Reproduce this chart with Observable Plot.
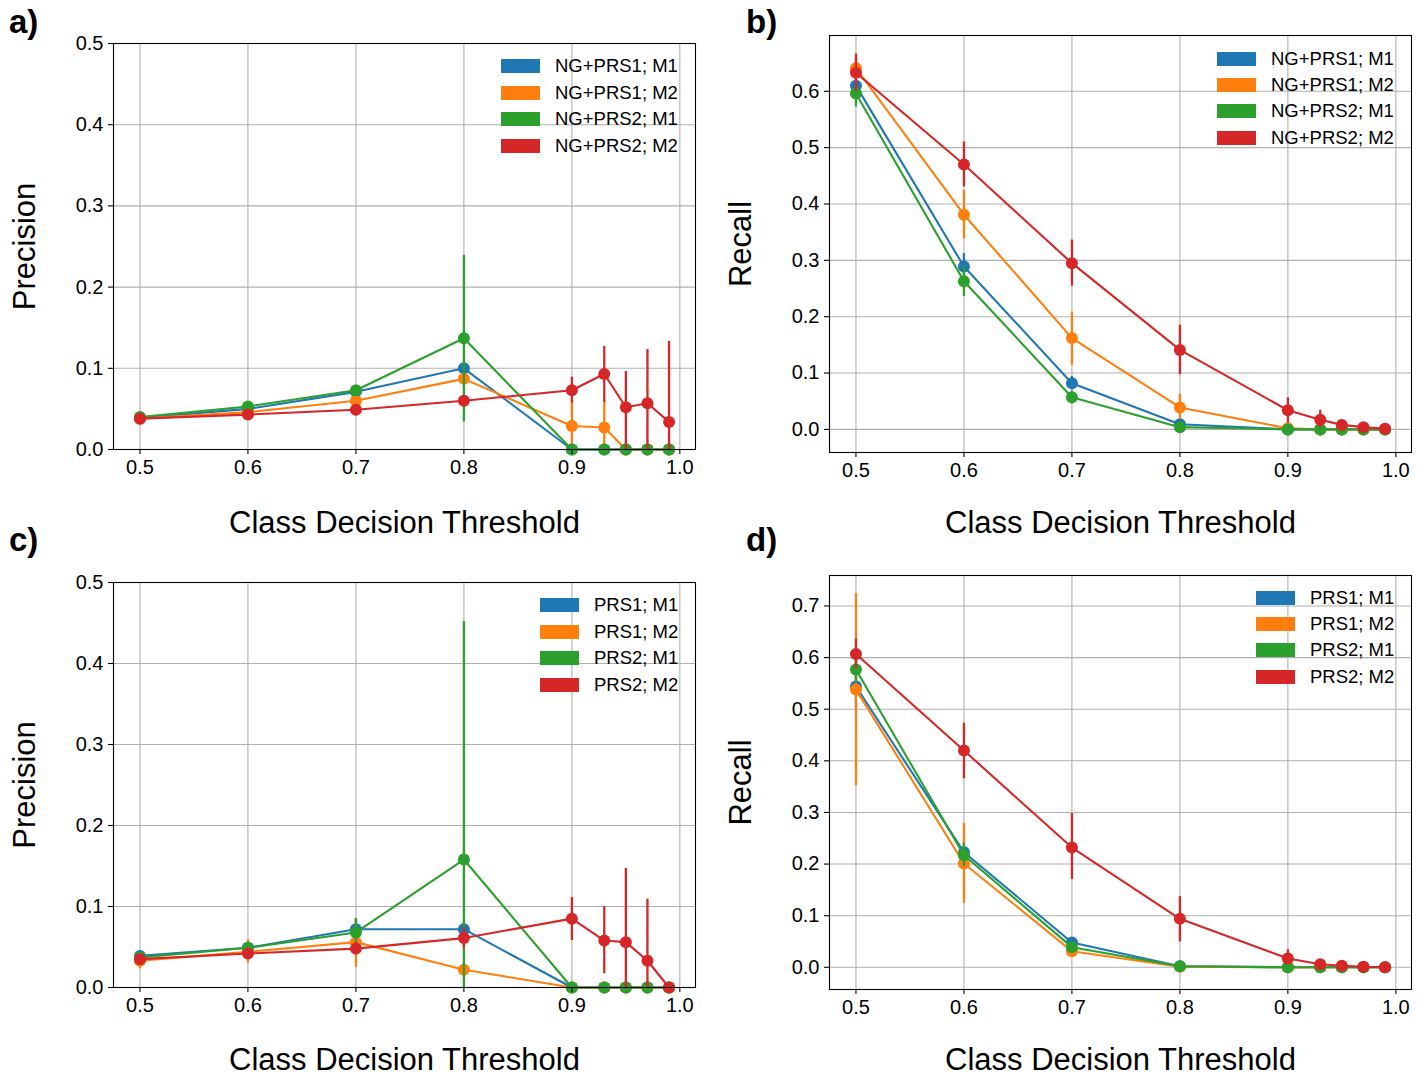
<!DOCTYPE html>
<html>
<head>
<meta charset="utf-8">
<script src="https://cdn.jsdelivr.net/npm/d3@7"></script>
<script src="https://cdn.jsdelivr.net/npm/@observablehq/plot@0.6"></script>
<style>
  html, body { margin: 0; padding: 0; background: #fff; }
  #fig { position: relative; width: 1426px; height: 1078px; background: #fff; font-family: "Liberation Sans", Arial, sans-serif; overflow: hidden; }
  .panel { position: absolute; }
  .letter { position: absolute; font-weight: bold; font-size: 33px; line-height: 33px; color: #000; }
  .leg { position: absolute; font-size: 18.5px; color: #000; white-space: nowrap; }
  .sw { position: absolute; width: 39px; height: 14px; }
</style>
</head>
<body>
<div id="fig"></div>
<script>
// ---------- data ----------
const thresholds = [0.5, 0.6, 0.7, 0.8, 0.9, 0.93, 0.95, 0.97, 0.99];
const xTicks = [0.5, 0.6, 0.7, 0.8, 0.9, 1.0];
const precisionTicks = [0.0, 0.1, 0.2, 0.3, 0.4, 0.5];
const recallTicksB = [0.0, 0.1, 0.2, 0.3, 0.4, 0.5, 0.6];
const recallTicksD = [0.0, 0.1, 0.2, 0.3, 0.4, 0.5, 0.6, 0.7];
const colors = ["#1f77b4", "#ff7f0e", "#2ca02c", "#d62728"];
const labelsNG = ["NG+PRS1; M1", "NG+PRS1; M2", "NG+PRS2; M1", "NG+PRS2; M2"];
const labelsPRS = ["PRS1; M1", "PRS1; M2", "PRS2; M1", "PRS2; M2"];
const xLabel = "Class Decision Threshold";

// Panel a) precision, NG+PRS
const aBlue     = [0.039, 0.050, 0.071, 0.100, 0, 0, 0, 0, 0];
const aBlueLo   = [0.037, 0.047, 0.067, 0.092, 0, 0, 0, 0, 0];
const aBlueHi   = [0.041, 0.053, 0.075, 0.108, 0, 0, 0, 0, 0];
const aOrange   = [0.038, 0.046, 0.060, 0.087, 0.029, 0.027, 0, 0, 0];
const aOrangeLo = [0.036, 0.043, 0.056, 0.080, 0, 0, 0, 0, 0];
const aOrangeHi = [0.040, 0.049, 0.064, 0.094, 0.060, 0.060, 0, 0, 0];
const aGreen    = [0.040, 0.053, 0.073, 0.137, 0, 0, 0, 0, 0];
const aGreenLo  = [0.038, 0.050, 0.069, 0.034, 0, 0, 0, 0, 0];
const aGreenHi  = [0.042, 0.056, 0.077, 0.239, 0, 0, 0, 0, 0];
const aRed      = [0.038, 0.043, 0.049, 0.060, 0.073, 0.093, 0.052, 0.057, 0.034];
const aRedLo    = [0.036, 0.041, 0.046, 0.055, 0.057, 0.058, 0, 0, 0];
const aRedHi    = [0.040, 0.045, 0.052, 0.065, 0.089, 0.127, 0.096, 0.123, 0.133];

// Panel b) recall, NG+PRS
const bBlue     = [0.610, 0.289, 0.082, 0.009, 0, 0, 0, 0, 0];
const bBlueLo   = [0.590, 0.266, 0.070, 0.003, 0, 0, 0, 0, 0];
const bBlueHi   = [0.630, 0.312, 0.094, 0.015, 0, 0, 0, 0, 0];
const bOrange   = [0.641, 0.381, 0.162, 0.039, 0.002, 0, 0, 0, 0];
const bOrangeLo = [0.620, 0.338, 0.114, 0.018, 0, 0, 0, 0, 0];
const bOrangeHi = [0.660, 0.424, 0.208, 0.062, 0.005, 0, 0, 0, 0];
const bGreen    = [0.596, 0.263, 0.057, 0.004, 0, 0, 0, 0, 0];
const bGreenLo  = [0.572, 0.236, 0.045, 0, 0, 0, 0, 0, 0];
const bGreenHi  = [0.620, 0.290, 0.068, 0.008, 0, 0, 0, 0, 0];
const bRed      = [0.633, 0.470, 0.295, 0.141, 0.034, 0.017, 0.008, 0.004, 0.001];
const bRedLo    = [0.600, 0.430, 0.254, 0.097, 0.011, 0.002, 0, 0, 0];
const bRedHi    = [0.666, 0.510, 0.336, 0.185, 0.056, 0.034, 0.016, 0.008, 0.002];

// Panel c) precision, PRS
const cBlue     = [0.039, 0.049, 0.072, 0.072, 0, 0, 0, 0, 0];
const cBlueLo   = [0.035, 0.045, 0.060, 0.060, 0, 0, 0, 0, 0];
const cBlueHi   = [0.043, 0.053, 0.085, 0.080, 0, 0, 0, 0, 0];
const cOrange   = [0.033, 0.044, 0.056, 0.022, 0, 0, 0, 0, 0];
const cOrangeLo = [0.023, 0.030, 0.025, 0.015, 0, 0, 0, 0, 0];
const cOrangeHi = [0.043, 0.059, 0.085, 0.030, 0, 0, 0, 0, 0];
const cGreen    = [0.037, 0.049, 0.068, 0.158, 0, 0, 0, 0, 0];
const cGreenLo  = [0.033, 0.043, 0.055, 0, 0, 0, 0, 0, 0];
const cGreenHi  = [0.041, 0.055, 0.085, 0.452, 0, 0, 0, 0, 0];
const cRed      = [0.035, 0.042, 0.048, 0.061, 0.085, 0.058, 0.056, 0.033, 0];
const cRedLo    = [0.030, 0.038, 0.040, 0.048, 0.058, 0.017, 0, 0, 0];
const cRedHi    = [0.040, 0.046, 0.056, 0.074, 0.111, 0.100, 0.147, 0.109, 0];

// Panel d) recall, PRS
const dBlue     = [0.544, 0.223, 0.048, 0.002, 0, 0, 0, 0, 0];
const dBlueLo   = [0.500, 0.200, 0.040, 0, 0, 0, 0, 0, 0];
const dBlueHi   = [0.590, 0.245, 0.056, 0.004, 0, 0, 0, 0, 0];
const dOrange   = [0.538, 0.201, 0.031, 0.001, 0, 0, 0, 0, 0];
const dOrangeLo = [0.352, 0.124, 0.022, 0, 0, 0, 0, 0, 0];
const dOrangeHi = [0.724, 0.279, 0.040, 0.002, 0, 0, 0, 0, 0];
const dGreen    = [0.577, 0.217, 0.039, 0.002, 0, 0, 0, 0, 0];
const dGreenLo  = [0.550, 0.195, 0.030, 0, 0, 0, 0, 0, 0];
const dGreenHi  = [0.600, 0.240, 0.048, 0.004, 0, 0, 0, 0, 0];
const dRed      = [0.607, 0.420, 0.232, 0.094, 0.017, 0.006, 0.003, 0.001, 0.0];
const dRedLo    = [0.578, 0.365, 0.170, 0.049, 0.005, 0, 0, 0, 0];
const dRedHi    = [0.636, 0.473, 0.298, 0.137, 0.034, 0.012, 0.006, 0.002, 0.0];

// ---------- drawing ----------
const xDomain = [0.4755, 1.0145];
const fmt = d3.format(".1f");
const fig = document.getElementById("fig");

function rows(v, lo, hi) {
  return thresholds.map((t, i) => ({t, v: v[i], lo: lo[i], hi: hi[i]}));
}

function panel(cfg) {
  const marks = [
    Plot.gridX({ticks: xTicks, stroke: "#b0b0b0", strokeOpacity: 1, strokeWidth: 1.1}),
    Plot.gridY({ticks: cfg.yTicks, stroke: "#b0b0b0", strokeOpacity: 1, strokeWidth: 1.1})
  ];
  cfg.series.forEach((s, k) => {
    const data = rows(s[0], s[1], s[2]);
    marks.push(
      Plot.line(data, {x: "t", y: "v", stroke: colors[k], strokeWidth: 2.1}),
      Plot.dot(data, {x: "t", y: "v", fill: colors[k], r: 6, stroke: "none"}),
      Plot.ruleX(data.filter(d => d.hi > d.lo), {x: "t", y1: "lo", y2: "hi", stroke: colors[k], strokeWidth: 2.3})
    );
  });
  marks.push(
    Plot.frame({stroke: "#000", strokeWidth: 1.1}),
    Plot.axisX({ticks: xTicks, tickFormat: fmt, tickSize: 5, tickPadding: 5, fontSize: 20, label: null, stroke: "#000", strokeWidth: 1.1}),
    Plot.axisY({ticks: cfg.yTicks, tickFormat: fmt, tickSize: 5, tickPadding: 5, fontSize: 20, label: null, stroke: "#000", strokeWidth: 1.1}),
    Plot.text([xLabel], {text: d => d, frameAnchor: "bottom", lineAnchor: "middle", textAnchor: "middle", dy: cfg.xlDy, fontSize: 31}),
    Plot.text([cfg.ylabel], {text: d => d, frameAnchor: "left", lineAnchor: "middle", textAnchor: "middle", dx: -88, rotate: -90, fontSize: 31})
  );
  const svg = Plot.plot({
    width: cfg.width, height: cfg.height,
    marginTop: cfg.mt, marginRight: cfg.mr, marginBottom: cfg.mb, marginLeft: cfg.ml,
    x: {domain: xDomain},
    y: {domain: cfg.yDomain},
    style: {fontFamily: '"Liberation Sans", Arial, sans-serif', fontSize: "20px", background: "transparent", color: "#000", overflow: "visible"},
    marks
  });
  const wrap = document.createElement("div");
  wrap.className = "panel";
  wrap.style.left = cfg.left + "px";
  wrap.style.top = cfg.top + "px";
  wrap.appendChild(svg);
  fig.appendChild(wrap);

  // legend
  cfg.legend.forEach((lab, k) => {
    const yc = cfg.legY[k];
    const sw = document.createElement("div");
    sw.className = "sw";
    sw.style.left = cfg.legX + "px";
    sw.style.top = (yc - 7) + "px";
    sw.style.background = colors[k];
    fig.appendChild(sw);
    const t = document.createElement("div");
    t.className = "leg";
    t.textContent = lab;
    t.style.left = (cfg.legX + 54) + "px";
    t.style.top = (yc - 11) + "px";
    t.style.lineHeight = "22px";
    fig.appendChild(t);
  });

  const L = document.createElement("div");
  L.className = "letter";
  L.textContent = cfg.letter;
  L.style.left = cfg.letterX + "px";
  L.style.top = cfg.letterY + "px";
  fig.appendChild(L);
}

panel({
  left: 0, top: 0, width: 713, height: 539, mt: 43, mr: 18, mb: 90, ml: 113,
  yDomain: [0, 0.5], yTicks: precisionTicks, ylabel: "Precision", xlDy: 74,
  series: [[aBlue, aBlueLo, aBlueHi], [aOrange, aOrangeLo, aOrangeHi], [aGreen, aGreenLo, aGreenHi], [aRed, aRedLo, aRedHi]],
  legend: labelsNG, legX: 501, legY: [66, 93, 119, 146], letter: "a)", letterX: 9, letterY: 5
});
panel({
  left: 713, top: 0, width: 713, height: 539, mt: 35, mr: 15, mb: 87, ml: 116,
  yDomain: [-0.041, 0.699], yTicks: recallTicksB, ylabel: "Recall", xlDy: 71,
  series: [[bBlue, bBlueLo, bBlueHi], [bOrange, bOrangeLo, bOrangeHi], [bGreen, bGreenLo, bGreenHi], [bRed, bRedLo, bRedHi]],
  legend: labelsNG, legX: 1217, legY: [59, 85, 111, 138], letter: "b)", letterX: 746, letterY: 5
});
panel({
  left: 0, top: 539, width: 713, height: 539, mt: 43, mr: 18, mb: 91, ml: 113,
  yDomain: [0, 0.5], yTicks: precisionTicks, ylabel: "Precision", xlDy: 73,
  series: [[cBlue, cBlueLo, cBlueHi], [cOrange, cOrangeLo, cOrangeHi], [cGreen, cGreenLo, cGreenHi], [cRed, cRedLo, cRedHi]],
  legend: labelsPRS, legX: 540, legY: [605, 632, 658, 685], letter: "c)", letterX: 9, letterY: 523
});
panel({
  left: 713, top: 539, width: 713, height: 539, mt: 36, mr: 15, mb: 89, ml: 116,
  yDomain: [-0.043, 0.759], yTicks: recallTicksD, ylabel: "Recall", xlDy: 71,
  series: [[dBlue, dBlueLo, dBlueHi], [dOrange, dOrangeLo, dOrangeHi], [dGreen, dGreenLo, dGreenHi], [dRed, dRedLo, dRedHi]],
  legend: labelsPRS, legX: 1256, legY: [598, 624, 650, 677], letter: "d)", letterX: 746, letterY: 523
});
</script>
</body>
</html>
